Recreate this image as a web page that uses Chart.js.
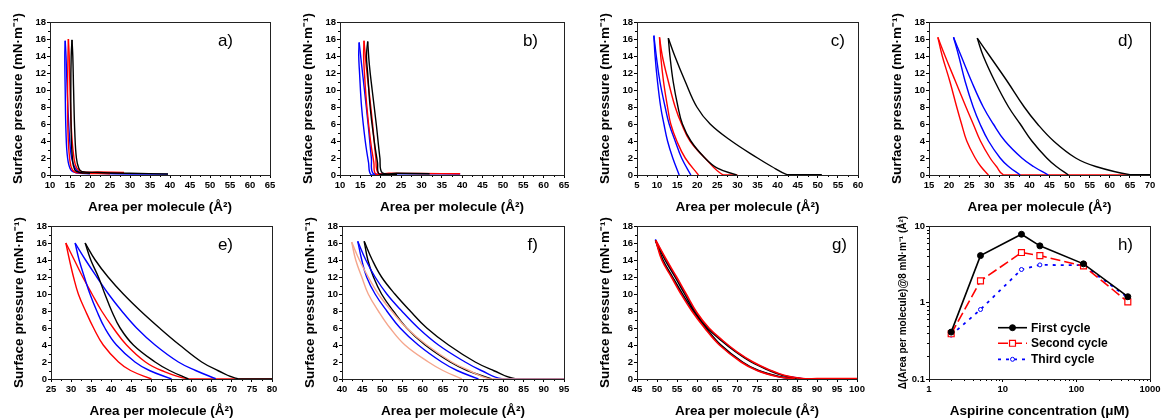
<!DOCTYPE html>
<html>
<head>
<meta charset="utf-8">
<script src="https://cdn.jsdelivr.net/npm/chart.js@4.4.1/dist/chart.umd.min.js"></script>
<style>
  html, body { margin: 0; padding: 0; background: #fff; }
  #fig { position: relative; width: 1161px; height: 420px; overflow: hidden; background: #fff; }
  #fig canvas { position: absolute; }
</style>
</head>
<body>
<div id="fig"></div>
<script>
'use strict';

// ── Isotherm loops: [area, pressure], compression up to the apex, then expansion back down ──
const aBlack = [[39.5,0.12],[30,0.2],[22,0.3],[18,0.4],[17.2,0.8],[16.6,2],[16.2,5],[15.9,10],[15.7,14],[15.5,15.9],[15.3,14],[15.2,10],[15.3,5],[15.6,2],[16.2,0.6],[17.5,0.3],[20,0.2]];
const aRed   = [[28.5,0.3],[22,0.35],[18,0.4],[16.7,0.8],[16.0,2],[15.4,5],[15.0,10],[14.8,14],[14.6,16.0],[14.5,14],[14.4,10],[14.5,5],[14.9,2],[15.6,0.6],[17,0.25],[25,0.15]];
const aBlue  = [[39.5,0.1],[30,0.12],[22,0.2],[17.5,0.3],[16.3,0.8],[15.4,2],[14.8,5],[14.3,10],[14.0,14],[13.8,15.8],[13.7,14],[13.8,10],[14.0,5],[14.4,2],[15.2,0.6],[16.5,0.25],[20,0.15]];

const bBlack = [[32,0.15],[24,0.2],[20.4,0.25],[19.8,2],[18.9,6],[17.9,10],[17.2,13],[16.8,15.7],[16.5,14],[16.8,12],[17.4,8],[18.4,4],[19.2,1.5],[19.7,0.1],[24,0.05]];
const bRed   = [[39.5,0.15],[30,0.18],[22,0.2],[19.4,0.2],[18.8,2],[18.0,6],[17.1,10],[16.4,13],[15.9,15.8],[15.8,14],[16.0,12],[16.6,8],[17.5,4],[18.3,1.5],[18.8,0.1],[22,0.05]];
const bBlue  = [[39.5,0.12],[30,0.15],[22,0.15],[18.2,0.15],[17.7,2],[16.9,6],[16.0,10],[15.3,13],[14.7,15.6],[14.6,14],[14.8,12],[15.3,8],[16.2,4],[17.0,1.5],[17.6,0.05],[20,0]];

const cBlue  = [[18.4,0],[16.1,2],[14.5,4],[13.0,6],[12.0,8],[10.7,11],[9.8,14],[9.2,16.4],[9.5,14],[10.1,11],[10.9,8],[11.7,6],[12.6,4],[13.9,2],[15.5,0]];
const cRed   = [[30,0],[26.5,0],[21.9,2],[18.2,4],[16.1,6],[14.5,8],[12.8,11],[11.3,14],[10.6,16.2],[10.9,14],[11.6,11],[12.6,8],[13.4,6],[14.9,4],[17.0,2],[20.3,0]];
const cBlack = [[51,0.03],[44,0.03],[42.3,0.05],[38.5,1],[35.0,2],[28.5,4],[23.2,6],[19.9,8],[17.0,11],[14.4,14],[12.8,16.1],[13.2,14],[14.0,11],[15.2,8],[16.3,6],[18.4,4],[21.9,2],[25,0.8],[29.8,0]];

const dRed   = [[70,0.02],[40,0.02],[33.5,0.05],[31.8,1],[30.2,2],[27.8,4],[26.0,6],[24.2,8],[21.6,11],[19.0,14],[17.2,16.2],[18.3,14],[20.2,11],[21.9,8],[23.1,6],[24.4,4],[26.5,2],[27.9,1],[29.8,0]];
const dBlue  = [[44.7,0],[41,1],[38.1,2],[33.9,4],[31.0,6],[28.5,8],[25.6,11],[23.0,14],[21.1,16.2],[22.4,14],[24.0,11],[26.0,8],[27.7,6],[29.8,4],[32.7,2],[34.8,1],[37.7,0]];
const dBlack = [[70,0.03],[65,0.05],[56.5,1],[51.5,2],[46.0,4],[42.0,6],[38.7,8],[34.5,11],[30.1,14],[27.0,16.1],[28.5,14],[31.4,11],[34.8,8],[37.7,6],[40.6,4],[44.3,2],[46.7,1],[49.7,0]];

const eRed   = [[80,0.02],[65,0.02],[58.8,0.05],[52.5,1],[48.5,2],[43.8,4],[40.5,6],[37.6,8],[35.2,10],[32.9,12],[30.8,14],[28.7,16],[29.6,14],[30.6,12],[31.8,10],[33.6,8],[35.6,6],[38.0,4],[41.8,2],[44.8,1],[50,0]];
const eBlue  = [[66,0.03],[61,1],[56.7,2],[50.9,4],[46.3,6],[42.6,8],[39.3,10],[36.4,12],[33.6,14],[31.0,16],[32.0,14],[33.3,12],[34.7,10],[36.4,8],[38.4,6],[41.3,4],[45.9,2],[49.5,1],[55,0]];
const eBlack = [[80,0],[71.5,0.05],[66.5,1],[62.5,2],[57.0,4],[52.0,6],[47.3,8],[43.0,10],[39.2,12],[36.0,14],[33.5,16],[34.9,14],[36.8,12],[38.4,10],[40.1,8],[42.2,6],[45.5,4],[50.9,2],[54.5,1],[59.2,0]];

const fSalmon = [[95,0],[80,0],[76.3,0.05],[71.5,1],[67.2,2],[61.0,4],[56.0,6],[52.3,8],[49.0,10],[46.5,12],[44.3,14],[42.4,16.1],[43.4,14],[44.9,12],[46.5,10],[49.0,8],[51.9,6],[55.6,4],[61.4,2],[65,1],[69.7,0]];
const fBlue   = [[95,0],[79.6,0.03],[74.5,1],[70.5,2],[63.9,4],[58.9,6],[54.8,8],[51.1,10],[48.2,12],[45.9,14],[43.9,16.2],[44.9,14],[46.1,12],[48.2,10],[51.1,8],[54.4,6],[58.9,4],[64.7,2],[68.5,1],[73.8,0]];
const fBlack  = [[95,0],[82.9,0.03],[77.5,1],[73.0,2],[66.4,4],[61.0,6],[56.9,8],[53.1,10],[49.8,12],[47.5,14],[45.5,16.2],[46.4,14],[47.8,12],[49.8,10],[52.7,8],[56.0,6],[60.6,4],[66.8,2],[71,1],[77.1,0]];

const gRed   = [[100,0.05],[90,0.05],[86.5,0.05],[82,0.4],[78,1.1],[74,2],[70,3.2],[66.5,4.5],[63,6],[60,7.8],[57.3,10],[54.9,12],[52.4,14],[49.7,16.3],[51.2,14],[53.6,12],[56.0,10],[58.7,8],[61.9,6],[65.6,4],[71,2],[75,1],[80,0.3],[84.5,0]];
const gBlack = [[86,0.05],[81.5,0.4],[77.5,1.1],[73.5,2],[69.6,3.2],[66.1,4.5],[62.6,6],[59.6,7.8],[56.9,10],[54.5,12],[52.0,14],[49.6,16.3],[51.5,14],[53.9,12],[56.4,10],[59.1,8],[62.3,6],[66.0,4],[71.4,2],[75.4,1],[80.5,0.3],[85,0]];
const gBlue  = [[86.5,0.05],[81.8,0.4],[77.8,1.1],[73.8,2],[69.8,3.2],[66.3,4.5],[62.8,6],[59.8,7.8],[57.1,10],[54.7,12],[52.2,14],[49.6,16.4],[51.4,14],[53.8,12],[56.2,10],[58.9,8],[62.1,6],[65.8,4],[71.2,2],[75.2,1],[80.2,0.3],[84.8,0]];

// ── Panel h: hysteresis area vs aspirin concentration ──
const hConc   = [2, 5, 18, 32, 125, 500];
const hFirst  = [0.41, 4.1, 7.8, 5.5, 3.2, 1.19];
const hSecond = [0.39, 1.92, 4.5, 4.1, 3.0, 1.02];
const hThird  = [0.375, 0.81, 2.7, 3.1, 3.07, 1.16];
const hXTicks = [1, 10, 100, 1000];
const hYTicks = [0.1, 1, 10];
const hLabels = ['First cycle', 'Second cycle', 'Third cycle'];

const BLACK = '#000000', RED = '#ff0000', BLUE = '#0000ff', SALMON = '#f5a68c';
const FONT = "'Liberation Sans', Arial, Helvetica, sans-serif";
const AXIS_W = 52, AXIS_H = 40, PAD_T = 22, PAD_R = 12;
const LEGEND_ROWS = [101.7, 117.3, 133.3];

const tickFont  = { family: FONT, size: 9.5, weight: 'bold' };
const titleFont = { family: FONT, size: 13.5, weight: 'bold' };

Chart.defaults.font.family = FONT;

// ── helpers ──────────────────────────────────────────
function toPts(arr) { return arr.map((p) => ({ x: p[0], y: p[1] })); }

// split a loop at its apex so the tip stays sharp
function loopSets(loop, color, width) {
  let top = 0;
  loop.forEach((p, i) => { if (p[1] > loop[top][1]) top = i; });
  return [loop.slice(0, top + 1), loop.slice(top)].map((part) => ({
    data: toPts(part),
    showLine: true,
    borderColor: color,
    borderWidth: width || 1.4,
    pointRadius: 0,
    pointHoverRadius: 0,
    tension: 0.4,
    fill: false,
  }));
}

function minorValues(s) {
  const t = s.ticks.map((k) => k.value);
  const out = [];
  for (let i = 0; i < t.length - 1; i++) {
    if (s.type === 'logarithmic') { for (let k = 2; k < 10; k++) out.push(t[i] * k); }
    else out.push((t[i] + t[i + 1]) / 2);
  }
  return out;
}

function axis(type, min, max, o) {
  const cfg = {
    type, min, max,
    grid: { drawOnChartArea: false, drawTicks: true, tickLength: 3, color: '#000', lineWidth: 1 },
    border: { display: true, color: '#000', width: 1 },
    ticks: {
      color: '#000', font: tickFont, padding: o.horizontal ? 2 : 1,
      autoSkip: false, maxRotation: 0, minRotation: 0,
    },
    title: {
      display: true, text: o.title, color: '#000', font: o.titleFont || titleFont,
      padding: o.horizontal ? { top: 0, bottom: 0 } : { top: o.titlePad || 12, bottom: 0 },
    },
    afterFit(s) {
      if (o.horizontal) { s.height = AXIS_H; s.paddingLeft = 0; s.paddingRight = 0; }
      else { s.width = AXIS_W; s.paddingTop = 0; s.paddingBottom = 0; }
    },
  };
  if (o.step) cfg.ticks.stepSize = o.step;
  if (o.majors) {
    cfg.afterBuildTicks = (s) => { s.ticks = o.majors.map((v) => ({ value: v })); };
    cfg.ticks.callback = (v) => String(v);
  }
  return cfg;
}

// ── plugins ──────────────────────────────────────────
const frameAndMinor = {
  id: 'frameAndMinor',
  afterDraw(chart) {
    const { ctx, chartArea: a } = chart;
    ctx.save();
    ctx.strokeStyle = '#000';
    ctx.lineWidth = 1;
    ctx.beginPath();
    ['x', 'y'].forEach((id) => {
      const s = chart.scales[id];
      minorValues(s).forEach((v) => {
        const p = Math.round(s.getPixelForValue(v)) + 0.5;
        if (id === 'x') { ctx.moveTo(p, a.bottom); ctx.lineTo(p, a.bottom + 2); }
        else { ctx.moveTo(a.left, p); ctx.lineTo(a.left - 2, p); }
      });
    });
    ctx.stroke();
    ctx.strokeStyle = '#222';
    ctx.strokeRect(a.left + 0.5, a.top + 0.5, a.right - a.left, a.bottom - a.top);
    ctx.restore();
  },
};

const panelLetter = {
  id: 'panelLetter',
  afterDraw(chart, args, opts) {
    if (!opts || !opts.text) return;
    const { ctx, chartArea: a } = chart;
    ctx.save();
    ctx.font = '17px ' + FONT;
    ctx.fillStyle = '#000';
    ctx.textAlign = 'right';
    ctx.textBaseline = 'alphabetic';
    ctx.fillText(opts.text, a.right - opts.inset, a.top + 24);
    ctx.restore();
  },
};

// line + marker legend, Origin style
const cycleLegend = {
  id: 'cycleLegend',
  afterDatasetsDraw(chart) {
    const { ctx, chartArea: a } = chart;
    ctx.save();
    chart.data.datasets.forEach((ds, i) => {
      const y = a.top + LEGEND_ROWS[i];
      ctx.strokeStyle = ds.borderColor;
      ctx.lineWidth = ds.borderWidth;
      ctx.setLineDash(ds.borderDash || []);
      ctx.beginPath();
      ctx.moveTo(a.left + 69, y);
      ctx.lineTo(a.left + 98, y);
      ctx.stroke();
      ctx.setLineDash([]);
      const cx = a.left + 83.5, r = ds.pointRadius;
      ctx.fillStyle = ds.pointBackgroundColor;
      ctx.strokeStyle = ds.pointBorderColor;
      ctx.lineWidth = ds.pointBorderWidth;
      ctx.beginPath();
      if (ds.pointStyle === 'rect') {
        const h = r * Math.SQRT1_2;
        ctx.rect(cx - h, y - h, 2 * h, 2 * h);
      } else {
        ctx.arc(cx, y, r, 0, Math.PI * 2);
      }
      ctx.fill();
      ctx.stroke();
      ctx.fillStyle = '#000';
      ctx.font = 'bold 12px ' + FONT;
      ctx.textAlign = 'left';
      ctx.textBaseline = 'middle';
      ctx.fillText(hLabels[i], a.left + 102, y + 0.5);
    });
    ctx.restore();
  },
};

Chart.register(frameAndMinor, panelLetter);

// ── layout ───────────────────────────────────────────
const fig = document.getElementById('fig');

function makeCanvas(p) {
  const c = document.createElement('canvas');
  const w = (p.R - p.L) + AXIS_W + PAD_R;
  const h = (p.B - p.T) + PAD_T + AXIS_H;
  c.width = w; c.height = h;
  c.style.left = (p.L - AXIS_W) + 'px';
  c.style.top = (p.T - PAD_T) + 'px';
  c.style.width = w + 'px';
  c.style.height = h + 'px';
  fig.appendChild(c);
  return c;
}

function baseOptions(letter, inset, xScale, yScale) {
  return {
    responsive: false,
    animation: false,
    devicePixelRatio: 1,
    events: [],
    layout: { padding: { top: PAD_T, right: PAD_R, left: 0, bottom: 0 } },
    plugins: {
      legend: { display: false },
      tooltip: { enabled: false },
      panelLetter: { text: letter, inset },
    },
    scales: { x: xScale, y: yScale },
  };
}

const isoPanels = [
  { letter: 'a)', L: 50,  T: 22,  R: 270,  B: 175, x: [10, 65],  inset: 37, loops: [[aBlack, BLACK], [aRed, RED], [aBlue, BLUE]] },
  { letter: 'b)', L: 340, T: 22,  R: 564,  B: 175, x: [10, 65],  inset: 26, loops: [[bBlack, BLACK], [bRed, RED], [bBlue, BLUE]] },
  { letter: 'c)', L: 637, T: 22,  R: 858,  B: 175, x: [5, 60],   inset: 13, loops: [[cBlack, BLACK], [cRed, RED], [cBlue, BLUE]] },
  { letter: 'd)', L: 929, T: 22,  R: 1150, B: 175, x: [15, 70],  inset: 17, loops: [[dBlack, BLACK], [dBlue, BLUE], [dRed, RED]] },
  { letter: 'e)', L: 51,  T: 226, R: 272,  B: 379, x: [25, 80],  inset: 39, loops: [[eBlack, BLACK], [eBlue, BLUE], [eRed, RED]] },
  { letter: 'f)', L: 342, T: 226, R: 564,  B: 379, x: [40, 95],  inset: 26, loops: [[fSalmon, SALMON], [fBlue, BLUE], [fBlack, BLACK]] },
  { letter: 'g)', L: 637, T: 226, R: 857,  B: 379, x: [45, 100], inset: 10, loops: [[gRed, RED, 1.6], [gBlack, BLACK], [gBlue, BLUE]] },
];

isoPanels.forEach((p) => {
  const datasets = [];
  p.loops.forEach((l) => datasets.push(...loopSets(l[0], l[1], l[2])));
  new Chart(makeCanvas(p), {
    type: 'scatter',
    data: { datasets },
    options: baseOptions(p.letter, p.inset,
      axis('linear', p.x[0], p.x[1], { horizontal: true, step: 5, title: 'Area per molecule (Å²)' }),
      axis('linear', 0, 18, { step: 2, title: 'Surface pressure (mN·m⁻¹)' })),
  });
});

// ── panel h ──────────────────────────────────────────
const hPanel = { L: 929, T: 226, R: 1150, B: 379 };
const hOpts = baseOptions('h)', 17,
  axis('logarithmic', 1, 1000, { horizontal: true, majors: hXTicks, title: 'Aspirine concentration (μM)' }),
  axis('logarithmic', 0.1, 10, { majors: hYTicks, title: 'Δ(Area per molecule)@8 mN·m⁻¹ (Å²)',
    titleFont: { family: FONT, size: 10, weight: 'bold' }, titlePad: 20 }));

new Chart(makeCanvas(hPanel), {
  type: 'scatter',
  data: {
    datasets: [
      { data: hConc.map((x, i) => ({ x, y: hFirst[i] })), showLine: true, tension: 0,
        borderColor: BLACK, borderWidth: 1.6, pointStyle: 'circle', pointRadius: 3,
        pointBackgroundColor: BLACK, pointBorderColor: BLACK, pointBorderWidth: 1 },
      { data: hConc.map((x, i) => ({ x, y: hSecond[i] })), showLine: true, tension: 0,
        borderColor: RED, borderWidth: 1.6, borderDash: [10, 4], pointStyle: 'rect', pointRadius: 4.2,
        pointBackgroundColor: '#fff', pointBorderColor: RED, pointBorderWidth: 1.2 },
      { data: hConc.map((x, i) => ({ x, y: hThird[i] })), showLine: true, tension: 0,
        borderColor: BLUE, borderWidth: 1.8, borderDash: [3, 5], pointStyle: 'circle', pointRadius: 2,
        pointBackgroundColor: '#fff', pointBorderColor: BLUE, pointBorderWidth: 1 },
    ],
  },
  options: hOpts,
  plugins: [cycleLegend],
});
</script>
</body>
</html>
